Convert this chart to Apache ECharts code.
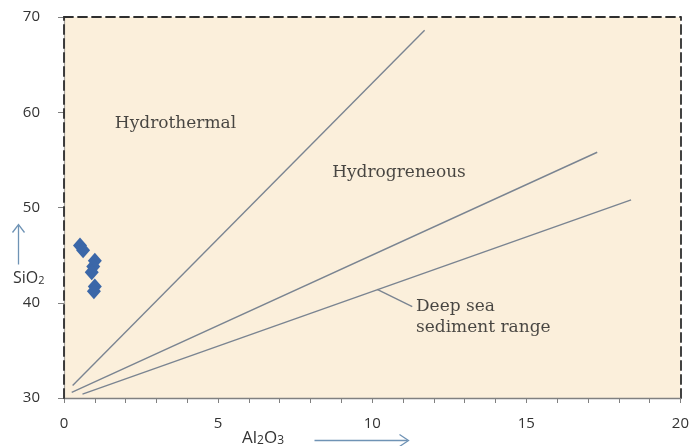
<!DOCTYPE html>
<html>
<head>
<meta charset="utf-8">
<script src="https://cdn.jsdelivr.net/npm/echarts@6/dist/echarts.min.js"></script>
<style>
  html, body { margin: 0; padding: 0; background: #ffffff; }
  #chart { width: 692px; height: 446px; }
</style>
</head>
<body>
<div id="chart"></div>
<script>
// Al2O3 (x) vs SiO2 (y) discrimination diagram
const samples = [
  [0.52, 46.0],
  [0.62, 45.5],
  [1.0, 44.4],
  [0.95, 43.8],
  [0.9, 43.2],
  [1.0, 41.7],
  [0.97, 41.2]
];

// field boundary lines
const hydrothermalLine = [[0.28, 31.3], [11.7, 68.6]];
const hydrogenousLine = [[0.25, 30.6], [17.3, 55.8]];
const deepSeaLine = [[0.6, 30.4], [18.4, 50.8]];
const deepSeaLeader = [[10.16, 41.4], [11.3, 39.6]];

// field labels
const fieldLabels = [
  { name: 'Hydrothermal', value: [1.65, 58.85] },
  { name: 'Hydrogreneous', value: [8.7, 53.7] },
  { name: 'Deep sea\nsediment range', value: [11.42, 38.5] }
];

const xTicks = [0, 5, 10, 15, 20];
const yTicks = [30, 40, 50, 60, 70];

const chart = echarts.init(document.getElementById('chart'), null, { renderer: 'canvas' });

const tickFont = { fontFamily: 'Open Sans, Lato, sans-serif', fontSize: 15, color: '#333333' };
const boundaryStyle = { color: '#7a8491', width: 1.4 };
const frameStyle = { color: '#2e2e2e', width: 1.8, type: [9, 5] };

function boundary(data) {
  return {
    type: 'line', data: data, symbol: 'none', silent: true,
    lineStyle: boundaryStyle, z: 3
  };
}

chart.setOption({
  animation: false,
  backgroundColor: '#ffffff',
  grid: {
    left: 64, top: 17, right: 9, bottom: 48,
    show: true, backgroundColor: '#fbefdb', borderWidth: 0
  },
  xAxis: [
    {
      type: 'value', min: xTicks[0], max: xTicks[xTicks.length - 1], interval: 1,
      axisLine: { show: true, lineStyle: { color: '#808080', width: 1.3 } },
      axisTick: { show: true, inside: false, length: 5, lineStyle: { color: '#808080' } },
      axisLabel: {
        ...tickFont, margin: 18,
        formatter: v => (xTicks.includes(v) ? String(v) : ''),
        showMinLabel: true, showMaxLabel: true
      },
      splitLine: { show: false }
    },
    {
      type: 'value', position: 'top', min: 0, max: 20,
      axisLine: { show: true, onZero: false, lineStyle: frameStyle },
      axisTick: { show: false }, axisLabel: { show: false }, splitLine: { show: false }
    }
  ],
  yAxis: [
    {
      type: 'value', min: 30, max: 70, interval: 10,
      axisLine: { show: true, onZero: false, lineStyle: frameStyle },
      axisTick: { show: false }, axisLabel: { show: false }, splitLine: { show: false }, z: 1
    },
    {
      type: 'value', position: 'right', min: 30, max: 70, interval: 10,
      axisLine: { show: true, onZero: false, lineStyle: frameStyle },
      axisTick: { show: false }, axisLabel: { show: false }, splitLine: { show: false }
    },
    {
      type: 'value', position: 'left', min: yTicks[0], max: yTicks[yTicks.length - 1], interval: 10,
      axisLine: { show: true, onZero: false, lineStyle: { color: '#8a8a8a', width: 1.2, opacity: 0.75 } },
      axisTick: { show: true, length: 6, lineStyle: { color: '#808080' } },
      axisLabel: { ...tickFont, margin: 24 },
      splitLine: { show: false }
    }
  ],
  graphic: [
    {
      type: 'text', left: 13, top: 270,
      style: {
        text: '{n|SiO}{s|2}',
        rich: {
          n: { fontFamily: 'Open Sans, sans-serif', fontSize: 16, fill: '#333333' },
          s: { fontFamily: 'Open Sans, sans-serif', fontSize: 11, fill: '#333333', padding: [5, 0, 0, 0] }
        }
      }
    },
    {
      type: 'group', left: 10, top: 222,
      children: [
        { type: 'line', shape: { x1: 6, y1: 1, x2: 6, y2: 40 }, style: { stroke: '#6f93b5', lineWidth: 1.3 } },
        { type: 'polyline', shape: { points: [[0, 8], [6, 0], [12, 8]] }, style: { stroke: '#6f93b5', lineWidth: 1.3, fill: null } }
      ]
    },
    {
      type: 'text', left: 242, top: 430,
      style: {
        text: '{n|Al}{s|2}{n|O}{s|3}',
        rich: {
          n: { fontFamily: 'Open Sans, sans-serif', fontSize: 17, fill: '#333333' },
          s: { fontFamily: 'Open Sans, sans-serif', fontSize: 12, fill: '#333333', padding: [5, 0, 0, 0] }
        }
      }
    },
    {
      type: 'group', left: 312, top: 432,
      children: [
        { type: 'line', shape: { x1: 0, y1: 6, x2: 93, y2: 6 }, style: { stroke: '#6f93b5', lineWidth: 1.3 } },
        { type: 'polyline', shape: { points: [[85, 0], [94, 6], [85, 12]] }, style: { stroke: '#6f93b5', lineWidth: 1.3, fill: null } }
      ]
    }
  ],
  series: [
    boundary(hydrothermalLine),
    boundary(hydrogenousLine),
    boundary(deepSeaLine),
    boundary(deepSeaLeader),
    {
      type: 'scatter', data: samples, symbol: 'diamond', symbolSize: [14, 16],
      itemStyle: { color: '#3b67a8', opacity: 1 }, z: 5
    },
    {
      type: 'scatter', data: fieldLabels, symbolSize: 0, silent: true, z: 4,
      label: {
        show: true, position: 'right', distance: 0,
        formatter: p => p.name,
        fontFamily: 'DejaVu Serif, serif', fontSize: 17, color: '#1a1a1a',
        lineHeight: 21, align: 'left'
      },
      emphasis: { disabled: true }
    }
  ]
});
</script>
</body>
</html>
